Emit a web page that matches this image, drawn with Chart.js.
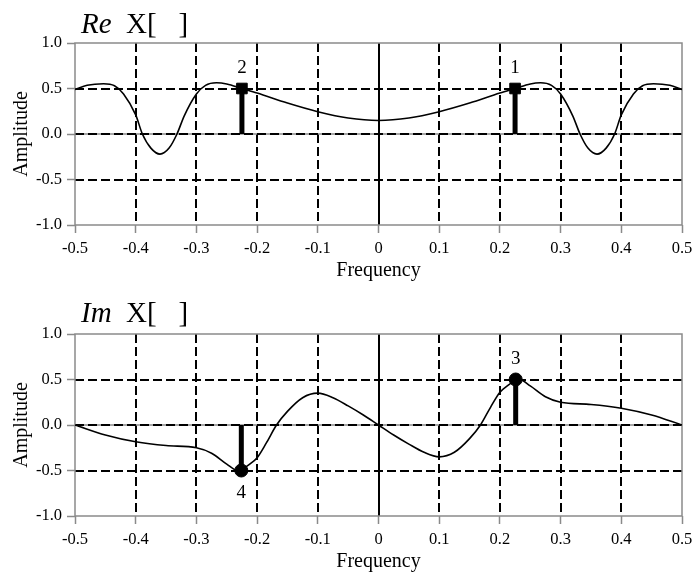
<!DOCTYPE html>
<html>
<head>
<meta charset="utf-8">
<title>Re / Im X[ ]</title>
<script src="https://cdn.jsdelivr.net/npm/chart.js@4.4.0/dist/chart.umd.min.js"></script>
<style>
  html, body { margin: 0; padding: 0; background: #fff; overflow: hidden; }
  body { width: 700px; height: 572px; position: relative; }
  canvas { position: absolute; left: 0; }
  #reChart { top: 0; }
  #imChart { top: 286px; }
</style>
</head>
<body>
<canvas id="reChart" width="700" height="286"></canvas>
<canvas id="imChart" width="700" height="291"></canvas>
<script>
// Axis ticks
const xTicks = [-0.5, -0.4, -0.3, -0.2, -0.1, 0, 0.1, 0.2, 0.3, 0.4, 0.5];
const xTickLabels = ['-0.5', '-0.4', '-0.3', '-0.2', '-0.1', '0', '0.1', '0.2', '0.3', '0.4', '0.5'];
const yTicks = [-1, -0.5, 0, 0.5, 1];
const yTickLabels = ['-1.0', '-0.5', '0.0', '0.5', '1.0'];

// Real part curve
const freqRe = [-0.5, -0.48, -0.453, -0.435, -0.42, -0.4, -0.389, -0.375, -0.36, -0.345, -0.332, -0.32, -0.3,
  -0.285, -0.267, -0.25, -0.225, -0.2, -0.15, -0.1, -0.05, 0, 0.05, 0.1, 0.15, 0.2, 0.225, 0.25, 0.267, 0.285,
  0.3, 0.32, 0.332, 0.345, 0.36, 0.375, 0.389, 0.4, 0.42, 0.435, 0.453, 0.48, 0.5];
const ampRe = [0.49, 0.535, 0.552, 0.53, 0.44, 0.21, 0.0, -0.155, -0.221, -0.155, 0.0, 0.2, 0.44,
  0.535, 0.563, 0.55, 0.5, 0.45, 0.34, 0.245, 0.175, 0.148, 0.175, 0.245, 0.34, 0.45, 0.5, 0.55, 0.563, 0.535,
  0.44, 0.2, 0.0, -0.155, -0.221, -0.155, 0.0, 0.21, 0.44, 0.53, 0.552, 0.535, 0.49];

// Imaginary part curve
const freqIm = [-0.5, -0.45, -0.4, -0.35, -0.3, -0.275, -0.25, -0.232, -0.21, -0.2, -0.185, -0.168, -0.15,
  -0.125, -0.1, -0.075, -0.05, -0.025, 0, 0.025, 0.05, 0.075, 0.1, 0.125, 0.15, 0.168, 0.185, 0.2, 0.21,
  0.232, 0.25, 0.275, 0.3, 0.35, 0.4, 0.45, 0.5];
const ampIm = [0, -0.11, -0.185, -0.226, -0.25, -0.31, -0.43, -0.5, -0.42, -0.36, -0.2, 0, 0.15,
  0.3, 0.35, 0.3, 0.21, 0.11, 0, -0.11, -0.21, -0.3, -0.35, -0.3, -0.15, 0, 0.2, 0.36, 0.42,
  0.5, 0.43, 0.31, 0.25, 0.226, 0.185, 0.11, 0];

// Stems (numbered samples)
const stemFreqRe = [0.225, -0.225];
const stemAmpRe = [0.5, 0.5];
const stemLabelsRe = ['1', '2'];
const stemFreqIm = [0.226, -0.226];
const stemAmpIm = [0.5, -0.5];
const stemLabelsIm = ['3', '4'];

const SERIF = "'Liberation Serif', 'Times New Roman', serif";
const FRAME = '#8a8a8a';

function makePanel(canvasId, panel) {
  const curve = panel.freq.map((f, i) => ({ x: f, y: panel.amp[i] }));

  const stemSets = panel.stemFreq.map((f, i) => ({
    data: [{ x: f, y: 0 }, { x: f, y: panel.stemAmp[i] }],
    borderColor: '#000',
    backgroundColor: '#000',
    borderWidth: 5,
    borderCapStyle: 'butt',
    pointStyle: panel.marker,
    pointRadius: [0, panel.markerSize],
    pointBorderWidth: 1
  }));

  // grid lines + frame behind the data
  const gridPlugin = {
    id: 'gridFrame',
    beforeDatasetsDraw(chart) {
      const { ctx, chartArea: a, scales: { x, y } } = chart;
      ctx.save();
      ctx.strokeStyle = '#000';
      ctx.lineWidth = 2;
      xTicks.forEach(v => {
        if (v === xTicks[0] || v === xTicks[xTicks.length - 1]) return;
        const px = Math.round(x.getPixelForValue(v));
        ctx.setLineDash(v === 0 ? [] : [9, 4]);
        ctx.beginPath();
        ctx.moveTo(px, a.top);
        ctx.lineTo(px, a.bottom);
        ctx.stroke();
      });
      yTicks.forEach(v => {
        if (v === yTicks[0] || v === yTicks[yTicks.length - 1]) return;
        const py = Math.round(y.getPixelForValue(v));
        if (v === 0) {
          ctx.setLineDash([]);
          ctx.strokeStyle = FRAME;
          ctx.lineWidth = 1.5;
          ctx.beginPath();
          ctx.moveTo(a.left, py);
          ctx.lineTo(a.right, py);
          ctx.stroke();
          ctx.strokeStyle = '#000';
          ctx.lineWidth = 2;
        }
        ctx.setLineDash([9, 4]);
        ctx.beginPath();
        ctx.moveTo(a.left, py);
        ctx.lineTo(a.right, py);
        ctx.stroke();
      });
      ctx.setLineDash([]);
      ctx.strokeStyle = FRAME;
      ctx.lineWidth = 1.5;
      ctx.strokeRect(a.left, a.top, a.right - a.left, a.bottom - a.top);
      ctx.restore();
    }
  };

  // panel title and stem numbers
  const textPlugin = {
    id: 'panelText',
    afterDatasetsDraw(chart) {
      const { ctx, chartArea: a, scales: { x, y } } = chart;
      ctx.save();
      ctx.fillStyle = '#000';
      ctx.textBaseline = 'alphabetic';
      ctx.textAlign = 'left';
      ctx.font = 'italic 29px ' + SERIF;
      const tx = a.left + 6;
      const ty = a.top - panel.titleGap;
      ctx.fillText(panel.titleItalic, tx, ty);
      const w = ctx.measureText(panel.titleItalic).width;
      ctx.font = '29px ' + SERIF;
      ctx.fillText(panel.titleRest, tx + w, ty);

      ctx.font = '19px ' + SERIF;
      ctx.textAlign = 'center';
      ctx.textBaseline = 'middle';
      panel.stemFreq.forEach((f, i) => {
        const px = x.getPixelForValue(f);
        const py = y.getPixelForValue(panel.stemAmp[i]);
        const off = panel.stemAmp[i] >= 0 ? -20 : 23;
        ctx.fillText(panel.stemLabels[i], px, py + off);
      });
      ctx.restore();
    }
  };

  return new Chart(document.getElementById(canvasId), {
    type: 'line',
    data: {
      datasets: [{
        data: curve,
        borderColor: '#000',
        borderWidth: 1.6,
        pointRadius: 0,
        cubicInterpolationMode: 'monotone',
        fill: false
      }].concat(stemSets)
    },
    options: {
      responsive: false,
      animation: false,
      events: [],
      layout: { padding: { top: panel.padTop, right: 18, left: 0, bottom: 0 } },
      plugins: { legend: { display: false }, tooltip: { enabled: false } },
      scales: {
        x: {
          type: 'linear',
          min: -0.5,
          max: 0.5,
          afterBuildTicks: s => { s.ticks = xTicks.map(v => ({ value: v })); },
          afterFit: s => { s.height = 61; },
          ticks: {
            callback: (v, i) => xTickLabels[i],
            color: '#000',
            font: { family: SERIF, size: 16.5 },
            padding: 6,
            maxRotation: 0,
            autoSkip: false
          },
          grid: { drawOnChartArea: false, drawTicks: true, tickLength: 8, tickColor: FRAME, tickWidth: 1.5 },
          border: { display: false },
          title: {
            display: true,
            text: 'Frequency',
            color: '#000',
            font: { family: SERIF, size: 20 },
            padding: { top: 0, bottom: 3 }
          }
        },
        y: {
          min: -1,
          max: 1,
          afterBuildTicks: s => { s.ticks = yTicks.map(v => ({ value: v })); },
          afterFit: s => { s.width = 75; },
          ticks: {
            callback: (v, i) => yTickLabels[i],
            color: '#000',
            font: { family: SERIF, size: 16.5 },
            padding: 5,
            autoSkip: false
          },
          grid: { drawOnChartArea: false, drawTicks: true, tickLength: 8, tickColor: FRAME, tickWidth: 1.5 },
          border: { display: false },
          title: {
            display: true,
            text: 'Amplitude',
            color: '#000',
            font: { family: SERIF, size: 20 },
            padding: { top: 10, bottom: 0 }
          }
        }
      }
    },
    plugins: [gridPlugin, textPlugin]
  });
}

makePanel('reChart', {
  freq: freqRe, amp: ampRe,
  stemFreq: stemFreqRe, stemAmp: stemAmpRe, stemLabels: stemLabelsRe,
  marker: 'rect', markerSize: 7.5,
  titleItalic: 'Re', titleRest: '  X[   ]',
  padTop: 43, titleGap: 10
});

makePanel('imChart', {
  freq: freqIm, amp: ampIm,
  stemFreq: stemFreqIm, stemAmp: stemAmpIm, stemLabels: stemLabelsIm,
  marker: 'circle', markerSize: 6.5,
  titleItalic: 'Im', titleRest: '  X[   ]',
  padTop: 48, titleGap: 12
});
</script>
</body>
</html>
